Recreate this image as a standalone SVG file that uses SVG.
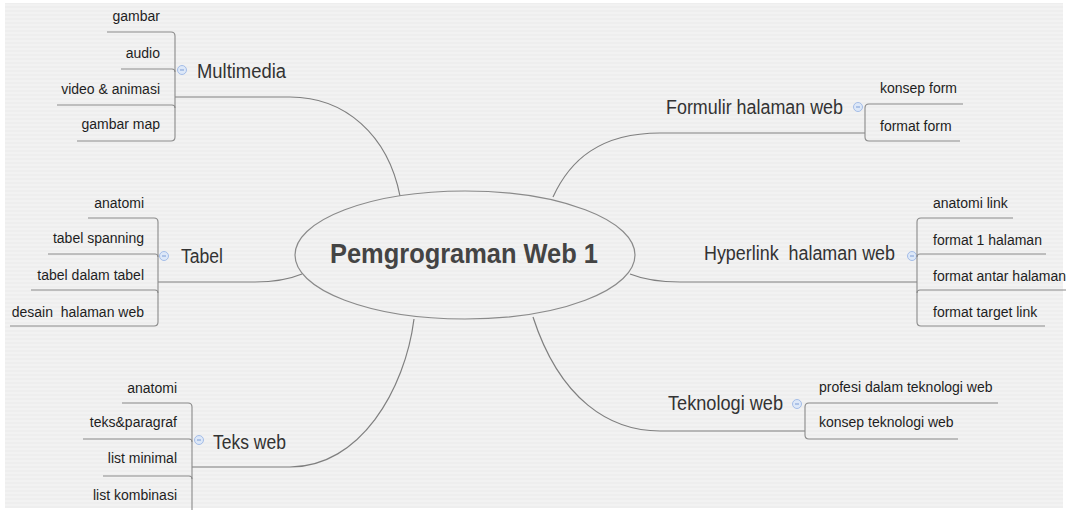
<svg xmlns="http://www.w3.org/2000/svg" width="1068" height="510" viewBox="0 0 1068 510">
<defs>
<pattern id="stripes" x="0" y="0" width="8" height="4" patternUnits="userSpaceOnUse">
<rect width="8" height="4" fill="#f2f2f2"/>
<rect y="2" width="8" height="2" fill="#eeeeee"/>
</pattern>
<g id="collapse">
<circle r="4.5" fill="#dde8f8" stroke="#a4bde8" stroke-width="1"/>
<line x1="-2" y1="0" x2="2" y2="0" stroke="#7c9dd6" stroke-width="1"/>
</g>
</defs>
<style>
.bg{fill:url(#stripes)}
.conn{fill:none;stroke:#7f7f7f;stroke-width:1.2}
.br{fill:none;stroke:#8a8a8a;stroke-width:1.1}
.child{font-family:"Liberation Sans",Arial,sans-serif;font-size:14px;fill:#1e1e1e}
.topic{font-family:"Liberation Sans",Arial,sans-serif;font-size:19.5px;fill:#333333}
.center{font-family:"Liberation Sans",Arial,sans-serif;font-size:28px;font-weight:bold;fill:#444444}
.end{text-anchor:end}
.pre{white-space:pre}
</style>
<rect width="1068" height="510" fill="#ffffff"/>
<rect class="bg" x="5" y="3" width="1058" height="505"/>

<g id="connectors">
<path class="conn" d="M 400 196 C 388 135, 345 97, 290 97 L 175 97"/>
<path class="conn" d="M 302 274 C 290 279, 275 282, 255 282 L 158 282"/>
<path class="conn" d="M 414 319 C 405 390, 360 467, 290 467 L 192 467"/>
<path class="conn" d="M 553 197 C 570 160, 600 133, 660 133 L 865 133"/>
<path class="conn" d="M 630 274 C 645 280, 660 282, 680 282 L 917 282"/>
<path class="conn" d="M 533 317 C 560 400, 610 431, 660 431 L 805 431"/>
</g>

<g id="center">
<ellipse cx="465" cy="255" rx="170" ry="64" fill="none" stroke="#8a8a8a" stroke-width="1.2"/>
<text class="center" x="330" y="263" textLength="268" lengthAdjust="spacingAndGlyphs">Pemgrograman Web 1</text>
</g>

<g id="multimedia">
<text class="topic" x="197" y="78" textLength="89" lengthAdjust="spacingAndGlyphs">Multimedia</text>
<use href="#collapse" x="182" y="70"/>
<path class="br" d="M 107 32 L 171 32 Q 175 32 175 36 L 175 137 Q 175 141 171 141 L 77 141"/>
<path class="br" d="M 121 69 L 172 69 Q 175 69 175 72"/>
<path class="br" d="M 57 105 L 172 105 Q 175 105 175 108"/>
</g>
<g id="multimedia-children">
<text class="child end" x="160" y="21">gambar</text>
<text class="child end" x="160" y="58">audio</text>
<text class="child end" x="160" y="94">video &amp; animasi</text>
<text class="child end" x="160" y="129">gambar map</text>
</g>

<g id="tabel">
<text class="topic" x="181" y="263" textLength="42" lengthAdjust="spacingAndGlyphs">Tabel</text>
<use href="#collapse" x="164" y="256"/>
<path class="br" d="M 88 218 L 154 218 Q 158 218 158 222 L 158 322 Q 158 326 154 326 L 10 326"/>
<path class="br" d="M 48 254 L 155 254 Q 158 254 158 257"/>
<path class="br" d="M 31 290 L 155 290 Q 158 290 158 293"/>
</g>
<g id="tabel-children">
<text class="child end" x="144" y="208">anatomi</text>
<text class="child end" x="144" y="243">tabel spanning</text>
<text class="child end" x="144" y="280">tabel dalam tabel</text>
<text class="child end pre" x="144" y="317">desain  halaman web</text>
</g>

<g id="teksweb">
<text class="topic" x="213" y="449" textLength="73" lengthAdjust="spacingAndGlyphs">Teks web</text>
<use href="#collapse" x="199" y="440"/>
<path class="br" d="M 122 403 L 188 403 Q 192 403 192 407 L 192 515"/>
<path class="br" d="M 83 439 L 189 439 Q 192 439 192 442"/>
<path class="br" d="M 103 476 L 189 476 Q 192 476 192 479"/>
</g>
<g id="teksweb-children">
<text class="child end" x="177" y="393">anatomi</text>
<text class="child end" x="177" y="427">teks&amp;paragraf</text>
<text class="child end" x="177" y="463">list minimal</text>
<text class="child end" x="177" y="500">list kombinasi</text>
</g>

<g id="formulir">
<text class="topic" x="666" y="114" textLength="177" lengthAdjust="spacingAndGlyphs">Formulir halaman web</text>
<use href="#collapse" x="858" y="107"/>
<path class="br" d="M 963 104 L 869 104 Q 865 104 865 108 L 865 137 Q 865 141 869 141 L 960 141"/>
</g>
<g id="formulir-children">
<text class="child" x="880" y="93">konsep form</text>
<text class="child" x="880" y="131">format form</text>
</g>

<g id="hyperlink">
<text class="topic pre" x="704" y="260" textLength="191" lengthAdjust="spacingAndGlyphs">Hyperlink  halaman web</text>
<use href="#collapse" x="912" y="256"/>
<path class="br" d="M 1013 218 L 921 218 Q 917 218 917 222 L 917 322 Q 917 326 921 326 L 1045 326"/>
<path class="br" d="M 1046 254 L 920 254 Q 917 254 917 257"/>
<path class="br" d="M 1066 290 L 920 290 Q 917 290 917 293"/>
</g>
<g id="hyperlink-children">
<text class="child" x="933" y="208">anatomi link</text>
<text class="child" x="933" y="245">format 1 halaman</text>
<text class="child" x="933" y="281">format antar halaman</text>
<text class="child" x="933" y="317">format target link</text>
</g>

<g id="teknologi">
<text class="topic" x="668" y="410" textLength="115" lengthAdjust="spacingAndGlyphs">Teknologi web</text>
<use href="#collapse" x="797" y="404"/>
<path class="br" d="M 998 403 L 809 403 Q 805 403 805 407 L 805 435 Q 805 439 809 439 L 958 439"/>
</g>
<g id="teknologi-children">
<text class="child" x="819" y="392">profesi dalam teknologi web</text>
<text class="child" x="819" y="427">konsep teknologi web</text>
</g>
</svg>
